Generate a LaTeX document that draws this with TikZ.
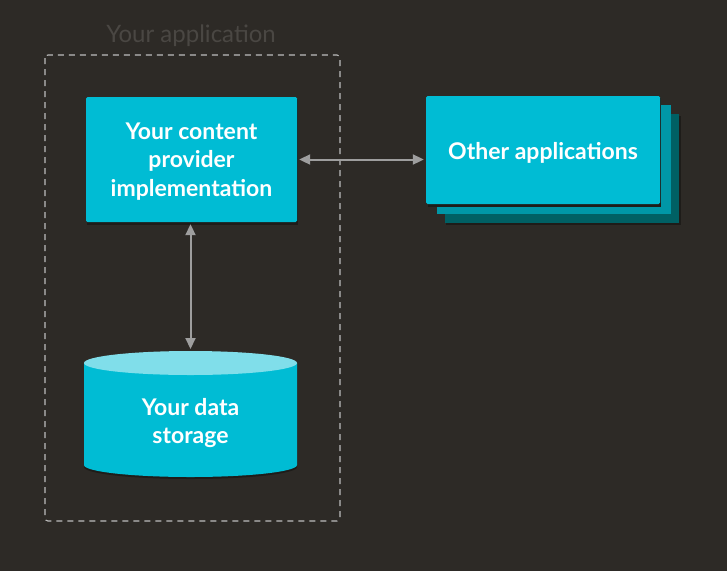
\documentclass[tikz,border=0pt]{standalone}
\usepackage{fontspec}
\setmainfont{Lato}
\usetikzlibrary{arrows.meta,shapes.geometric}
\definecolor{bg}{HTML}{2D2A26}
\definecolor{cyanA}{HTML}{00BCD4}
\definecolor{cyanB}{HTML}{0097A7}
\definecolor{cyanC}{HTML}{006064}
\definecolor{cyanL}{HTML}{80DEEA}
\definecolor{titlegray}{HTML}{4A4743}
\definecolor{arrowgray}{HTML}{9E9E9E}
\definecolor{dashgray}{HTML}{BDBDBD}
\definecolor{shadowc}{HTML}{1E1C19}
\tikzset{
  cbox/.style={fill=cyanA, rounded corners=1.5pt, inner sep=0pt},
  boxtext/.style={text=white, font=\bfseries\fontsize{23}{28.5}\selectfont, align=center},
  link/.style={draw=arrowgray, line width=2pt, {Triangle[width=10pt,length=11pt]}-{Triangle[width=10pt,length=11pt]}, shorten <=2pt, shorten >=2pt},
}
\begin{document}
\begin{tikzpicture}[x=1pt,y=-1pt]
\fill[bg] (0,0) rectangle (727,571);
\useasboundingbox (0,0) rectangle (727,571);
% application frame
\draw[dashgray, dashed, dash pattern=on 6pt off 5pt, line width=1.1pt, rounded corners=3pt] (45,55) rectangle (340,521);
\node[text=titlegray, font=\fontsize{24}{28}\selectfont] (title) at (191,36) {Your application};
% content provider
\fill[shadowc] (87,99) rectangle (298,225);
\node[cbox, minimum width=211pt, minimum height=125pt] (cp) at (191.5,159.5) {};
\node[boxtext] (cpt) at (191.5,161.5) {Your content\\provider\\implementation};
% other applications stack
\fill[shadowc] (446,116) rectangle (681,225);
\fill[cyanC] (445,114) rectangle (679,223);
\fill[cyanB] (437,105) rectangle (671,214);
\fill[shadowc] (428,98) rectangle (661,207);
\node[cbox, minimum width=234pt, minimum height=108pt] (oa) at (543,150) {};
\node[boxtext] (oat) at (543,153) {Other applications};
% storage cylinder
\fill[shadowc] (84,368) -- (84,467) arc[start angle=180,end angle=360,x radius=106.5pt,y radius=12pt] -- (297,368) -- cycle;
\fill[cyanA] (84,363) -- (84,465) arc[start angle=180,end angle=360,x radius=106.5pt,y radius=12pt] -- (297,363) -- cycle;
\fill[cyanL] (190.5,363) ellipse[x radius=106.5pt, y radius=12pt];
\coordinate (dstop) at (190.5,351);
\node[boxtext] (ds) at (190.5,423) {Your data\\storage};
% connectors
\draw[link] (cp.east) -- (cp.east -| oa.west);
\draw[link] (cp.south -| dstop) -- (dstop);
\end{tikzpicture}
\end{document}
